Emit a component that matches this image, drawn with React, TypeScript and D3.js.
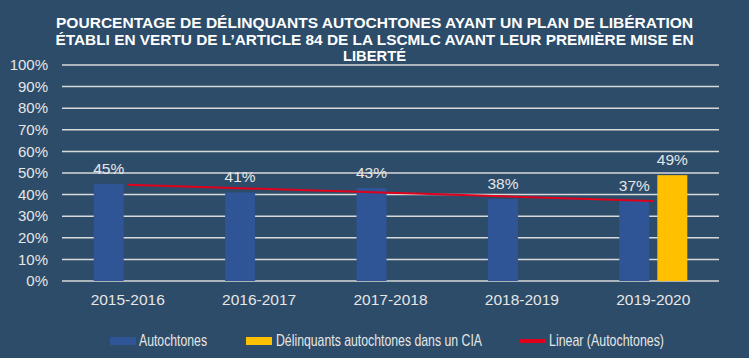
import React from 'react'
import * as d3 from 'd3'

const categories = ['2015-2016', '2016-2017', '2017-2018', '2018-2019', '2019-2020']
const autochtones = [45, 41, 43, 38, 37]
const cia = [null, null, null, null, 49]
const yTicks = [0, 10, 20, 30, 40, 50, 60, 70, 80, 90, 100]
const titleLines = [
    'POURCENTAGE DE DÉLINQUANTS AUTOCHTONES AYANT UN PLAN DE LIBÉRATION',
    'ÉTABLI EN VERTU DE L\u2019ARTICLE 84 DE LA LSCMLC AVANT LEUR PREMIÈRE MISE EN',
    'LIBERTÉ'
]
const seriesNames = ['Autochtones', 'Délinquants autochtones dans un CIA']
const trendName = 'Linear (Autochtones)'

const W = 749, H = 358
const BG = '#2c4c69'
const BLUE = '#2f5597'
const YELLOW = '#ffc000'
const RED = '#e0001b'
const TXT = '#e6e6e6'
const sans = '"Liberation Sans", Arial, sans-serif'

// least squares trend on the Autochtones series
function trend(vals: number[]) {
    const xs = vals.map((_, i) => i + 1)
    const mx = d3.mean(xs) as number, my = d3.mean(vals) as number
    const slope = d3.sum(xs, (x, i) => (x - mx) * (vals[i] - my)) / d3.sum(xs, x => (x - mx) ** 2)
    return xs.map(x => my + slope * (x - mx))
}

// legend items (swatch x, text x, squeezed text width)
const legend = [
    { name: seriesNames[0], color: BLUE, sx: 110, tx: 139, tw: 68, h: 8 },
    { name: seriesNames[1], color: YELLOW, sx: 246, tx: 276, tw: 206, h: 8 },
    { name: trendName, color: RED, sx: 520, tx: 549, tw: 115, h: 4 }
]

// title line widths (the original uses a condensed bold face)
const titleWidths = [637, 638, 63]

export default function App() {
    const x = d3.scaleBand().domain(categories).range([62, 719])
    const xs = d3.scaleBand().domain(seriesNames).range([-34, 34]).paddingInner(0.2105)
    const y = d3.scaleLinear().domain([0, 100]).range([281, 65])
    const fit = trend(autochtones)
    const line = d3.line<number>()
        .x((_, i) => (x(categories[i]) as number) + x.bandwidth() / 2)
        .y(d => y(d))

    const cx = (c: string) => (x(c) as number) + x.bandwidth() / 2
    const lab = { fontFamily: sans, fontSize: '15.5px' }

    return (
        <div style={{ position: 'fixed', left: 0, top: 0 }}>
            <svg width={W} height={H} style={{ display: 'block' }}>
                <rect width={W} height={H} fill={BG} />
                {titleLines.map((t, i) => (
                    <text key={i} x={W / 2} y={28 + i * 16.5} textAnchor="middle" fill="#ffffff"
                        style={{ fontFamily: sans, fontWeight: 'bold', fontSize: '15.5px' }}
                        textLength={titleWidths[i]} lengthAdjust="spacingAndGlyphs">{t}</text>
                ))}
                {yTicks.map(t => (
                    <g key={t}>
                        <line x1={62} x2={719} y1={y(t)} y2={y(t)} stroke="#d9d9d9" strokeWidth={1.5} />
                        <text x={48} y={y(t)} dy="0.35em" textAnchor="end" fill={TXT}
                            style={{ fontFamily: sans, fontSize: '15px' }}>{t}%</text>
                    </g>
                ))}
                {categories.map((c, i) => (
                    <g key={c}>
                        <rect x={cx(c) + (xs(seriesNames[0]) as number)} width={xs.bandwidth()}
                            y={y(autochtones[i])} height={y(0) - y(autochtones[i])} fill={BLUE} />
                        <text x={cx(c) + (xs(seriesNames[0]) as number) + xs.bandwidth() / 2} y={y(autochtones[i]) - 10}
                            textAnchor="middle" fill={TXT} style={lab}>{autochtones[i]}%</text>
                        {cia[i] != null && (
                            <g>
                                <rect x={cx(c) + (xs(seriesNames[1]) as number)} width={xs.bandwidth()}
                                    y={y(cia[i] as number)} height={y(0) - y(cia[i] as number)} fill={YELLOW} />
                                <text x={cx(c) + (xs(seriesNames[1]) as number) + xs.bandwidth() / 2} y={y(cia[i] as number) - 10}
                                    textAnchor="middle" fill={TXT} style={lab}>{cia[i]}%</text>
                            </g>
                        )}
                        <text x={cx(c)} y={305} textAnchor="middle" fill={TXT} style={lab}>{c}</text>
                    </g>
                ))}
                <path d={line(fit) as string} fill="none" stroke={RED} strokeWidth={2} />
                <g style={{ fontFamily: sans, fontSize: '17px' }} fill={TXT}>
                    {legend.map(l => (
                        <g key={l.name}>
                            <rect x={l.sx} y={341 - l.h / 2} width={26} height={l.h} fill={l.color} />
                            <text x={l.tx} y={345.5} textLength={l.tw} lengthAdjust="spacingAndGlyphs">{l.name}</text>
                        </g>
                    ))}
                </g>
            </svg>
        </div>
    )
}
